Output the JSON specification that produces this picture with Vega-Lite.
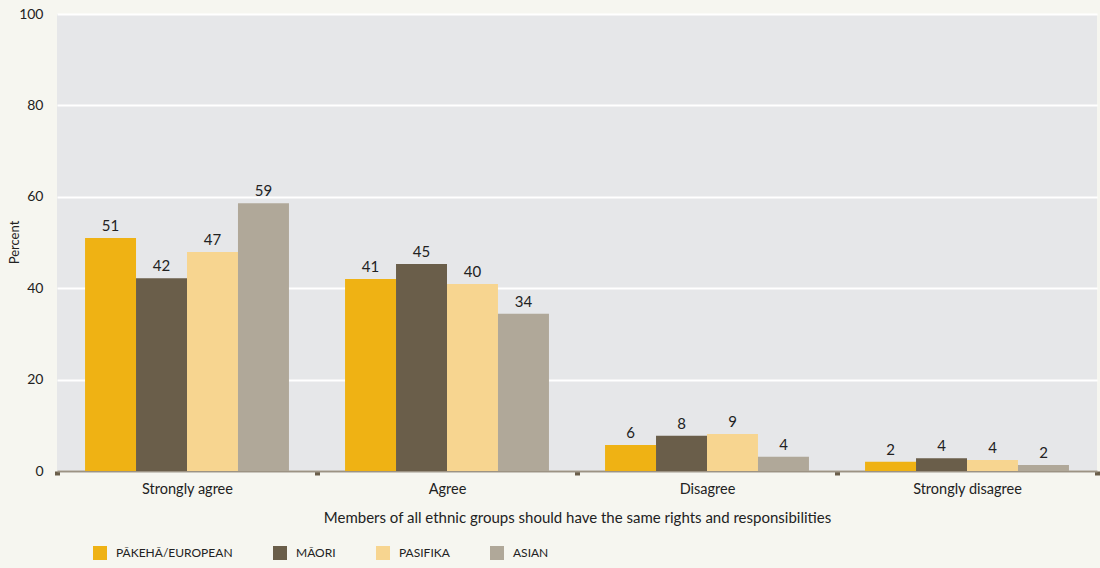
{
  "$schema": "https://vega.github.io/schema/vega-lite/v6.json",
  "width": 1040,
  "height": 457,
  "autosize": {"type": "none"},
  "padding": {"left": 57, "top": 14, "right": 3, "bottom": 97},
  "background": "#f6f6f0",
  "config": {
    "font": "Lato",
    "view": {"fill": "#e6e7e9", "stroke": null},
    "text": {"font": "Lato"}
  },
  "data": {
    "values": [
      {"response": "Strongly agree", "group": "PĀKEHĀ/EUROPEAN", "value": 51.0, "label": "51"},
      {"response": "Strongly agree", "group": "MĀORI", "value": 42.2, "label": "42"},
      {"response": "Strongly agree", "group": "PASIFIKA", "value": 47.9, "label": "47"},
      {"response": "Strongly agree", "group": "ASIAN", "value": 58.6, "label": "59"},
      {"response": "Agree", "group": "PĀKEHĀ/EUROPEAN", "value": 42.0, "label": "41"},
      {"response": "Agree", "group": "MĀORI", "value": 45.3, "label": "45"},
      {"response": "Agree", "group": "PASIFIKA", "value": 40.9, "label": "40"},
      {"response": "Agree", "group": "ASIAN", "value": 34.4, "label": "34"},
      {"response": "Disagree", "group": "PĀKEHĀ/EUROPEAN", "value": 5.7, "label": "6"},
      {"response": "Disagree", "group": "MĀORI", "value": 7.7, "label": "8"},
      {"response": "Disagree", "group": "PASIFIKA", "value": 8.1, "label": "9"},
      {"response": "Disagree", "group": "ASIAN", "value": 3.1, "label": "4"},
      {"response": "Strongly disagree", "group": "PĀKEHĀ/EUROPEAN", "value": 2.0, "label": "2"},
      {"response": "Strongly disagree", "group": "MĀORI", "value": 2.8, "label": "4"},
      {"response": "Strongly disagree", "group": "PASIFIKA", "value": 2.4, "label": "4"},
      {"response": "Strongly disagree", "group": "ASIAN", "value": 1.3, "label": "2"}
    ]
  },
  "encoding": {
    "x": {
      "field": "response",
      "type": "nominal",
      "sort": ["Strongly agree", "Agree", "Disagree", "Strongly disagree"],
      "scale": {"paddingInner": 0, "paddingOuter": 0},
      "axis": {
        "title": "Members of all ethnic groups should have the same rights and responsibilities",
        "titleFont": "Lato",
        "titleFontSize": 15,
        "titleFontWeight": "normal",
        "titleColor": "#222222",
        "titlePadding": 15,
        "labelAngle": 0,
        "labelFont": "Lato",
        "labelFontSize": 14.5,
        "labelColor": "#222222",
        "labelPadding": 7,
        "tickBand": "extent",
        "tickSize": 4,
        "tickWidth": 5,
        "tickColor": "#6a5e4a",
        "domainColor": "#9c9384",
        "domainWidth": 2,
        "grid": false
      }
    },
    "xOffset": {
      "field": "group",
      "type": "nominal",
      "sort": ["PĀKEHĀ/EUROPEAN", "MĀORI", "PASIFIKA", "ASIAN"],
      "scale": {"paddingInner": 0, "paddingOuter": 0.55}
    },
    "y": {
      "field": "value",
      "type": "quantitative",
      "scale": {"domain": [0, 100], "nice": false},
      "axis": {
        "title": "Percent",
        "titleFont": "Lato",
        "titleFontSize": 13,
        "titleFontWeight": "normal",
        "titleColor": "#222222",
        "titleX": -43,
        "titleY": 228,
        "titleAngle": 270,
        "titleBaseline": "middle",
        "titleAlign": "center",
        "values": [0, 20, 40, 60, 80, 100],
        "labelFont": "Lato",
        "labelFontSize": 14,
        "labelColor": "#222222",
        "labelPadding": 14,
        "ticks": false,
        "domain": false,
        "grid": true,
        "gridColor": "#ffffff",
        "gridWidth": 2
      }
    }
  },
  "layer": [
    {
      "mark": {"type": "bar"},
      "encoding": {
        "color": {
          "field": "group",
          "type": "nominal",
          "sort": ["PĀKEHĀ/EUROPEAN", "MĀORI", "PASIFIKA", "ASIAN"],
          "scale": {
            "domain": ["PĀKEHĀ/EUROPEAN", "MĀORI", "PASIFIKA", "ASIAN"],
            "range": ["#efb214", "#6a5e4a", "#f7d590", "#b0a899"]
          },
          "legend": {
            "title": null,
            "orient": "none",
            "direction": "horizontal",
            "legendX": 36,
            "legendY": 532,
            "symbolType": "square",
            "symbolSize": 196,
            "symbolStrokeWidth": 0,
            "labelFont": "Lato",
            "labelFontSize": 12,
            "labelColor": "#222222",
            "labelOffset": 9,
            "columnPadding": 40
          }
        }
      }
    },
    {
      "mark": {"type": "text", "baseline": "bottom", "dy": -4, "fontSize": 15, "color": "#222222"},
      "encoding": {
        "text": {"field": "label", "type": "nominal"}
      }
    }
  ]
}
